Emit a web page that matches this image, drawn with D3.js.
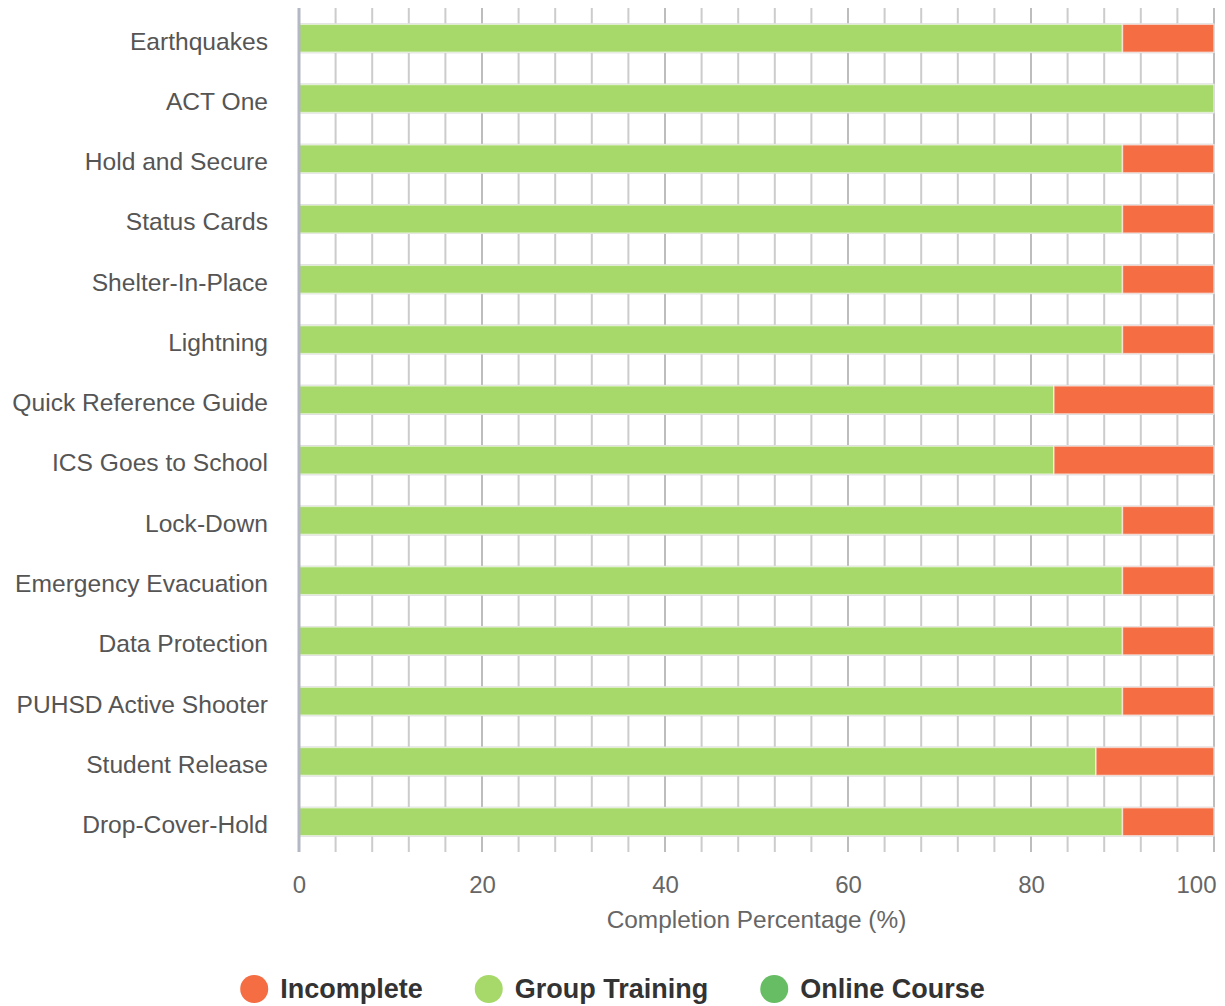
<!DOCTYPE html>
<html>
<head>
<meta charset="utf-8">
<script src="https://cdn.jsdelivr.net/npm/d3@7/dist/d3.min.js"></script>
<style>
  html, body { margin: 0; padding: 0; background: #fff; }
  svg { display: block; font-family: "Liberation Sans", Arial, Helvetica, sans-serif; }
</style>
</head>
<body>
<div id="chart"></div>
<script>
const categories = [
  "Earthquakes", "ACT One", "Hold and Secure", "Status Cards", "Shelter-In-Place",
  "Lightning", "Quick Reference Guide", "ICS Goes to School", "Lock-Down",
  "Emergency Evacuation", "Data Protection", "PUHSD Active Shooter",
  "Student Release", "Drop-Cover-Hold"
];
const onlineCourse  = [0, 0, 0, 0, 0, 0, 0, 0, 0, 0, 0, 0, 0, 0];
const groupTraining = [90, 100, 90, 90, 90, 90, 82.5, 82.5, 90, 90, 90, 90, 87.1, 90];
const incomplete    = [10, 0, 10, 10, 10, 10, 17.5, 17.5, 10, 10, 10, 10, 12.9, 10];
const xTicks = [0, 20, 40, 60, 80, 100];
const seriesKeys = ["Online Course", "Group Training", "Incomplete"];
const legendKeys = ["Incomplete", "Group Training", "Online Course"];

const colors = {
  "Incomplete": "#f46d43",
  "Group Training": "#a6d96a",
  "Online Course": "#66bd63"
};

const W = 1225, H = 1006;
const margin = { top: 8, right: 11, bottom: 154, left: 299 };
const iw = W - margin.left - margin.right;
const ih = H - margin.top - margin.bottom;

const rows = categories.map((c, i) => ({
  name: c,
  "Online Course": onlineCourse[i],
  "Group Training": groupTraining[i],
  "Incomplete": incomplete[i]
}));

const svg = d3.select("#chart").append("svg")
  .attr("width", W).attr("height", H);
const g = svg.append("g").attr("transform", `translate(${margin.left},${margin.top})`);

const x = d3.scaleLinear().domain([0, 100]).range([0, iw]);
const y = d3.scaleBand().domain(categories).range([0, ih]).paddingInner(0.535).paddingOuter(0.27);

// vertical grid every 4%
g.append("g").selectAll("line")
  .data(d3.range(4, 101, 4))
  .enter().append("line")
  .attr("x1", d => x(d)).attr("x2", d => x(d))
  .attr("y1", 0).attr("y2", ih)
  .attr("stroke", d => d % 20 === 0 ? "#bdbdbd" : "#cccccc")
  .attr("stroke-width", 2);

// horizontal lines at bar edges
const edges = [];
categories.forEach(c => { edges.push(y(c)); edges.push(y(c) + y.bandwidth()); });
g.append("g").selectAll("line")
  .data(edges)
  .enter().append("line")
  .attr("x1", 0).attr("x2", iw)
  .attr("y1", d => d).attr("y2", d => d)
  .attr("stroke", "#cccccc")
  .attr("stroke-width", 2);

// stacked bars
const stacked = d3.stack().keys(seriesKeys)(rows);
g.append("g").selectAll("g")
  .data(stacked)
  .enter().append("g")
  .attr("fill", d => colors[d.key])
  .selectAll("rect")
  .data(d => d)
  .enter().append("rect")
  .attr("x", d => x(d[0]))
  .attr("y", d => y(d.data.name))
  .attr("width", d => Math.max(0, x(d[1]) - x(d[0])))
  .attr("height", y.bandwidth())
  .attr("stroke", "rgba(255,255,255,0.6)")
  .attr("stroke-width", 1.5);

// axis line at 0
g.append("line")
  .attr("x1", 0).attr("x2", 0).attr("y1", 0).attr("y2", ih)
  .attr("stroke", "#b4b8c4").attr("stroke-width", 3);

// x axis labels
const xAxis = g.append("g")
  .attr("transform", `translate(0,${ih})`)
  .call(d3.axisBottom(x).tickValues(xTicks).tickSize(0).tickPadding(24));
xAxis.select(".domain").remove();
xAxis.selectAll("text")
  .attr("fill", "#666").attr("font-size", "24px")
  .attr("font-family", "Liberation Sans, Arial, sans-serif")
  .attr("text-anchor", d => d === 100 ? "end" : "middle")
  .attr("dx", d => d === 100 ? "2" : "0");

// y axis labels
const yAxis = g.append("g")
  .call(d3.axisLeft(y).tickSize(0).tickPadding(31));
yAxis.select(".domain").remove();
yAxis.selectAll("text")
  .attr("fill", "#555").attr("font-size", "24.6px")
  .attr("font-family", "Liberation Sans, Arial, sans-serif")
  .attr("dy", "0.46em");

// axis title
g.append("text")
  .attr("x", iw / 2).attr("y", ih + 76)
  .attr("text-anchor", "middle")
  .attr("fill", "#666").attr("font-size", "24.4px")
  .text("Completion Percentage (%)");

// legend, centred on page
const legend = svg.append("g").attr("transform", `translate(0,989)`);
const items = legend.selectAll("g").data(legendKeys).enter().append("g");
items.append("circle").attr("r", 14).attr("cx", 14).attr("cy", 0)
  .attr("fill", d => colors[d]);
items.append("text")
  .attr("x", 40).attr("dy", "0.35em")
  .attr("fill", "#333").attr("font-size", "27px").attr("font-weight", "bold")
  .text(d => d);

let offset = 0;
const gap = 52;
const widths = [];
items.each(function() {
  widths.push(40 + d3.select(this).select("text").node().getComputedTextLength());
});
const total = d3.sum(widths) + gap * (widths.length - 1);
let start = W / 2 - total / 2;
items.attr("transform", (d, i) => {
  const t = `translate(${start + offset},0)`;
  offset += widths[i] + gap;
  return t;
});
</script>
</body>
</html>
